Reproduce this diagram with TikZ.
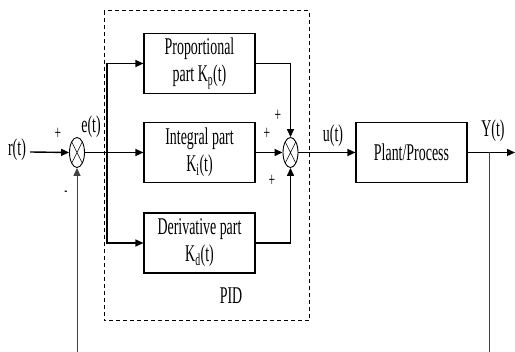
\documentclass[tikz,border=0pt]{standalone}
\usepackage{fontspec}
\setmainfont{Liberation Serif}[FakeStretch=0.58]
\usetikzlibrary{arrows.meta,shapes.geometric}
\begin{document}
\begin{tikzpicture}[x=1pt,y=-1pt,
  blk/.style={draw, line width=1.1pt, minimum width=111pt, minimum height=60pt, align=center, inner sep=0pt, font=\fontsize{24}{27}\selectfont},
  sumj/.style={draw, line width=0.9pt, ellipse, minimum width=15pt, minimum height=30pt, inner sep=0pt,
    path picture={\draw[line width=0.6pt] (path picture bounding box.north west)--(path picture bounding box.south east)
      (path picture bounding box.south west)--(path picture bounding box.north east);}},
  sig/.style={line width=1.4pt, -{Triangle[length=8pt,width=7pt]}},
  fbk/.style={line width=0.8pt, draw=black!75},
  lbl/.style={inner sep=0pt, font=\fontsize{24}{27}\selectfont},
  pm/.style={inner sep=0pt, font=\fontsize{20}{20}\selectfont}]
\useasboundingbox (0,0) rectangle (515,352);
% dashed PID frame
\draw[line width=1pt, dash pattern=on 4pt off 3pt] (104,11) rectangle (309,321);
% blocks
\node[blk] (P) at (199.5,63.5) {Proportional\\part K\textsubscript{p}(t)};
\node[blk] (I) at (199.5,152.5) {Integral part\\K\textsubscript{i}(t)};
\node[blk] (D) at (199.5,243) {Derivative part\\K\textsubscript{d}(t)};
\node[blk] (G) at (411.5,152.5) {Plant/Process};
% summing junctions
\node[sumj] (S1) at (77,152.5) {};
\node[sumj] (S2) at (290.5,152.5) {};
% labels
\node[lbl] (r) at (17,150) {r(t)};
\node[lbl] (e) at (91,127) {e(t)};
\node[lbl] (u) at (333,136) {u(t)};
\node[lbl] (y) at (493,131) {Y(t)};
\node[lbl] (pid) at (231,296) {PID};
\node[pm] (p1) at (58,134) {+};
\node[inner sep=0pt, font=\fontsize{16}{16}\selectfont] (m1) at (66,193) {-};
\node[pm] (p2) at (278,116) {+};
\node[pm] (p3) at (267,134) {+};
\node[pm] (p4) at (272,181) {+};
% coordinates
\coordinate (br) at (107,152.5);
\coordinate (out) at (515,152.5);
\coordinate (ytap) at (489,152.5);
\coordinate (ybot) at (489,352);
\coordinate (fb) at (77,352);
% connectors
\draw[sig] (r.east) ++(4,2) -- (S1.west);
\draw[sig] (S1.east) -- (I.west);
\draw[sig] (br) |- (P.west);
\draw[sig] (br) |- (D.west);
\draw[sig] (P.east) -| (S2.north);
\draw[sig] (I.east) -- (S2.west);
\draw[sig] (D.east) -| (S2.south);
\draw[sig] (S2.east) -- (G.west);
\draw[sig] (G.east) -- (out);
\draw[fbk] (ytap) -- (ybot);
\draw[fbk, -{Triangle[length=8pt,width=7pt]}] (fb) -- (S1.south);
\end{tikzpicture}
\end{document}
